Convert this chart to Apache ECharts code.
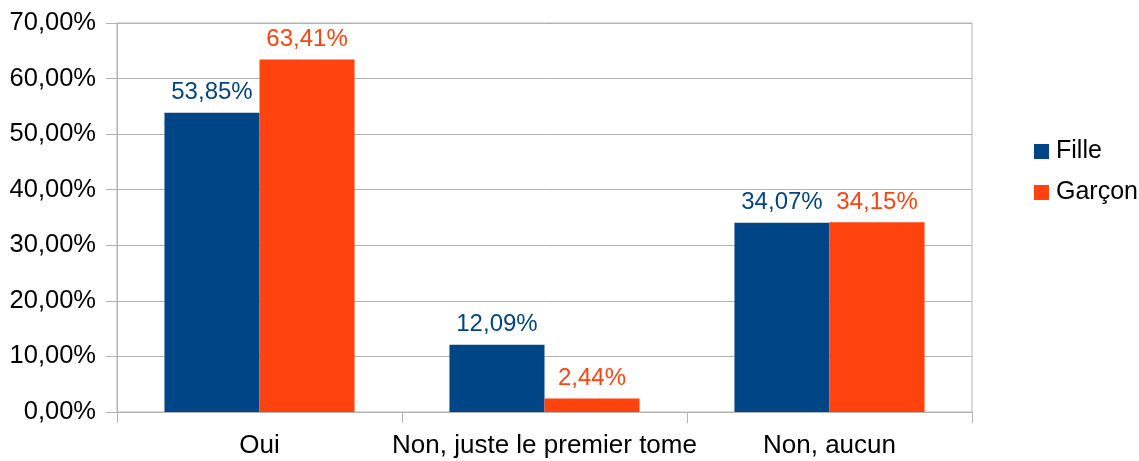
<!DOCTYPE html>
<html>
<head>
<meta charset="utf-8">
<script src="https://cdn.jsdelivr.net/npm/echarts@6/dist/echarts.min.js"></script>
<style>
  html, body { margin: 0; padding: 0; background: #fff; }
  #chart { width: 1139px; height: 461px; }
</style>
</head>
<body>
<div id="chart"></div>
<script>
// categories & series (percent values)
var categories = ['Oui', 'Non, juste le premier tome', 'Non, aucun'];
var filleValues = [53.85, 12.09, 34.07];
var garconValues = [63.41, 2.44, 34.15];
var seriesNames = ['Fille', 'Garçon'];
var yTicks = [0, 10, 20, 30, 40, 50, 60, 70];

var font = '"Liberation Sans", Arial, sans-serif';
var gridColor = '#b3b3b3';

function fmt(v) {
  return v.toFixed(2).replace('.', ',') + '%';
}

var chart = echarts.init(document.getElementById('chart'));
chart.setOption({
  animation: false,
  textStyle: { fontFamily: font },
  grid: {
    left: 117, right: 167, top: 23, bottom: 49,
    show: true, borderColor: gridColor, borderWidth: 1
  },
  legend: {
    orient: 'vertical',
    left: 1029, top: 134,
    itemWidth: 15, itemHeight: 15, itemGap: 16,
    icon: 'rect',
    textStyle: { fontSize: 25, color: '#000', fontFamily: font, padding: [0, 0, 0, 2] },
    data: seriesNames
  },
  xAxis: {
    type: 'category',
    data: categories,
    axisLine: { lineStyle: { color: gridColor } },
    axisTick: { show: true, length: 11, lineStyle: { color: gridColor } },
    axisLabel: { fontSize: 26, color: '#000', margin: 21, interval: 0, fontFamily: font }
  },
  yAxis: {
    type: 'value',
    min: yTicks[0], max: yTicks[yTicks.length - 1], interval: 10,
    axisLine: { show: true, lineStyle: { color: gridColor } },
    axisTick: { show: true, length: 11, lineStyle: { color: gridColor } },
    splitLine: { lineStyle: { color: gridColor } },
    axisLabel: { fontSize: 25.5, color: '#000', margin: 21, fontFamily: font, formatter: fmt }
  },
  series: [
    {
      name: seriesNames[0], type: 'bar', data: filleValues,
      itemStyle: { color: '#004586' },
      barGap: '0%', barCategoryGap: '33.3%',
      label: { show: true, position: 'top', distance: 8, fontSize: 24, color: '#004586', fontFamily: font,
        formatter: function (p) { return fmt(p.value); } }
    },
    {
      name: seriesNames[1], type: 'bar', data: garconValues,
      itemStyle: { color: '#ff420e' },
      barGap: '0%', barCategoryGap: '33.3%',
      label: { show: true, position: 'top', distance: 8, fontSize: 24, color: '#ff420e', fontFamily: font,
        formatter: function (p) { return fmt(p.value); } }
    }
  ]
});
</script>
</body>
</html>
